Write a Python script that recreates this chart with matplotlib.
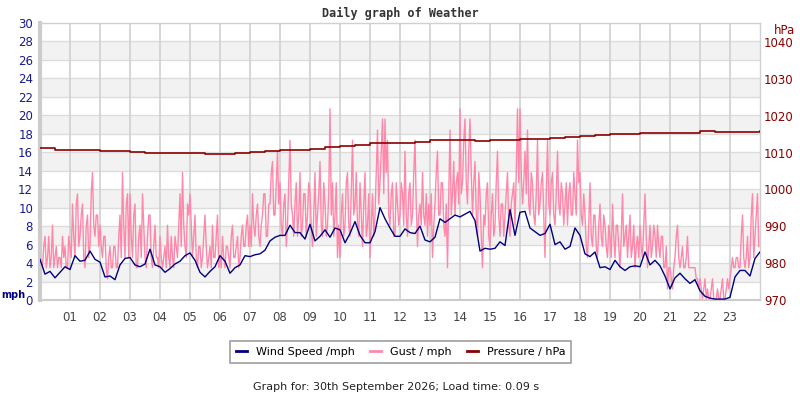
import numpy as np
import matplotlib.pyplot as plt

# wind speed, mph, one reading every 10 minutes (00:00 .. 24:00)
wind = [
    4.4, 2.8, 3.1, 2.4, 3.0, 3.6,
    3.3, 4.8, 4.2, 4.3, 5.3, 4.4,
    4.1, 2.5, 2.6, 2.2, 3.8, 4.5,
    4.6, 3.8, 3.6, 3.9, 5.5, 3.8,
    3.6, 3.0, 3.4, 3.9, 4.2, 4.8,
    5.1, 4.3, 3.0, 2.5, 3.1, 3.6,
    4.8, 4.2, 2.9, 3.5, 3.8, 4.8,
    4.7, 4.9, 5.0, 5.4, 6.4, 6.8,
    7.0, 7.0, 8.1, 7.3, 7.3, 6.6,
    8.2, 6.4, 6.9, 7.6, 6.8, 7.8,
    7.6, 6.2, 7.2, 8.5, 7.0, 6.2,
    6.2, 7.4, 10.0, 8.8, 7.8, 6.9,
    6.9, 7.7, 7.3, 7.2, 8.0, 6.5,
    6.3, 6.8, 8.8, 8.4, 8.8, 9.2,
    9.0, 9.3, 9.6, 8.6, 5.3, 5.6,
    5.5, 5.6, 6.3, 5.9, 9.8, 7.0,
    9.5, 9.6, 7.8, 7.4, 7.0, 7.2,
    8.2, 6.0, 6.3, 5.5, 5.8, 7.8,
    7.0, 5.0, 4.7, 5.2, 3.5, 3.6,
    3.3, 4.3, 3.6, 3.2, 3.6, 3.7,
    3.6, 5.2, 3.8, 4.3, 3.7, 2.6,
    1.2, 2.4, 2.9, 2.3, 1.8, 2.2,
    1.0, 0.4, 0.2, 0.1, 0.1, 0.1,
    0.3, 2.5, 3.2, 3.2, 2.6, 4.5,
    5.2,
]

# gust, mph, one reading every 2.5 minutes (24 per hour)
gust = [
    8.1, 4.6, 3.5, 5.8, 6.9, 3.5, 4.6, 6.9, 3.5, 4.6, 8.1, 3.5, 4.6, 5.8, 3.5, 4.6, 4.6, 3.5, 6.9, 4.6, 5.8, 3.5, 3.5, 6.9,
    5.8, 4.6, 10.4, 6.9, 4.6, 10.4, 11.5, 5.8, 6.9, 9.2, 10.4, 4.6, 3.5, 8.1, 9.2, 4.6, 5.8, 11.5, 13.8, 8.1, 6.9, 9.2, 9.2, 5.8,
    8.1, 5.8, 4.6, 6.9, 6.9, 3.5, 2.3, 4.6, 5.8, 3.5, 3.5, 5.8, 5.8, 3.5, 3.5, 6.9, 9.2, 4.6, 13.8, 8.1, 4.6, 10.4, 11.5, 4.6,
    11.5, 6.9, 4.6, 9.2, 10.4, 3.5, 3.5, 6.9, 8.1, 4.6, 11.5, 8.1, 4.6, 3.5, 6.9, 9.2, 9.2, 4.6, 3.5, 5.8, 8.1, 4.6, 4.6, 3.5,
    6.9, 4.6, 3.5, 4.6, 5.8, 3.5, 8.1, 4.6, 3.5, 6.9, 4.6, 3.5, 6.9, 5.8, 4.6, 8.1, 11.5, 5.8, 13.8, 8.1, 5.8, 4.6, 10.4, 9.2,
    11.5, 8.1, 4.6, 6.9, 9.2, 4.6, 3.5, 5.8, 5.8, 3.5, 4.6, 6.9, 9.2, 5.8, 3.5, 4.6, 5.8, 3.5, 8.1, 4.6, 4.6, 6.9, 9.2, 3.5,
    4.6, 3.5, 6.9, 4.6, 3.5, 5.8, 5.8, 4.6, 3.5, 6.9, 8.1, 4.6, 4.6, 5.8, 6.9, 3.5, 4.6, 6.9, 8.1, 5.8, 5.8, 8.1, 9.2, 5.8,
    8.1, 5.8, 11.5, 8.1, 6.9, 9.2, 10.4, 6.9, 5.8, 8.1, 9.2, 11.5, 11.5, 6.9, 6.9, 10.4, 10.4, 13.8, 15.0, 9.2, 9.2, 12.7, 16.1, 10.4,
    12.7, 8.1, 6.9, 10.4, 11.5, 5.8, 8.1, 12.7, 17.3, 10.4, 9.2, 6.9, 10.4, 12.7, 6.9, 9.2, 13.8, 6.9, 8.1, 11.5, 11.5, 6.9, 9.2, 12.7,
    11.5, 8.1, 5.8, 9.2, 13.8, 6.9, 9.2, 11.5, 15.0, 8.1, 6.9, 12.7, 10.4, 6.9, 8.1, 11.5, 20.7, 9.2, 12.7, 6.9, 9.2, 12.7, 4.6, 8.1,
    4.6, 9.2, 11.5, 6.9, 8.1, 12.7, 13.8, 8.1, 6.9, 11.5, 17.3, 9.2, 10.4, 13.8, 8.1, 6.9, 12.7, 9.2, 5.8, 10.4, 13.8, 6.9, 8.1, 11.5,
    4.6, 8.1, 11.5, 6.9, 9.2, 13.8, 18.4, 10.4, 12.7, 16.1, 19.6, 11.5, 19.6, 13.8, 17.3, 9.2, 8.1, 11.5, 12.7, 6.9, 6.9, 12.7, 10.4, 8.1,
    9.2, 12.7, 11.5, 8.1, 16.1, 9.2, 6.9, 11.5, 12.7, 8.1, 9.2, 13.8, 17.3, 10.4, 5.8, 9.2, 10.4, 8.1, 13.8, 9.2, 8.1, 11.5, 6.9, 10.4,
    8.1, 11.5, 4.6, 8.1, 10.4, 13.8, 16.1, 9.2, 9.2, 12.7, 12.7, 8.1, 6.9, 10.4, 3.5, 11.5, 18.4, 9.2, 11.5, 15.0, 9.2, 12.7, 13.8, 10.4,
    20.7, 11.5, 12.7, 17.3, 19.6, 12.7, 10.4, 16.1, 19.6, 13.8, 9.2, 12.7, 15.0, 9.2, 6.9, 13.8, 11.5, 6.9, 3.5, 9.2, 8.1, 11.5, 12.7, 6.9,
    5.8, 9.2, 11.5, 6.9, 8.1, 12.7, 16.1, 9.2, 6.9, 10.4, 10.4, 6.9, 9.2, 11.5, 13.8, 8.1, 6.9, 10.4, 11.5, 12.7, 8.1, 13.8, 20.7, 12.7,
    20.7, 13.8, 10.4, 12.7, 16.1, 11.5, 18.4, 10.4, 9.2, 13.8, 12.7, 9.2, 8.1, 11.5, 17.3, 9.2, 10.4, 12.7, 13.8, 9.2, 4.6, 11.5, 17.3, 10.4,
    9.2, 12.7, 13.8, 9.2, 8.1, 11.5, 16.1, 10.4, 9.2, 12.7, 11.5, 8.1, 10.4, 12.7, 8.1, 11.5, 12.7, 9.2, 9.2, 13.8, 11.5, 9.2, 17.3, 12.7,
    13.8, 9.2, 8.1, 11.5, 9.2, 5.8, 4.6, 8.1, 12.7, 6.9, 5.8, 9.2, 9.2, 5.8, 4.6, 8.1, 10.4, 6.9, 5.8, 9.2, 8.1, 5.8, 4.6, 8.1,
    6.9, 4.6, 10.4, 6.9, 4.6, 8.1, 8.1, 5.8, 3.5, 6.9, 11.5, 5.8, 6.9, 8.1, 4.6, 6.9, 9.2, 4.6, 5.8, 8.1, 3.5, 5.8, 6.9, 4.6,
    8.1, 5.8, 4.6, 8.1, 11.5, 6.9, 3.5, 5.8, 8.1, 4.6, 5.8, 8.1, 6.9, 4.6, 8.1, 5.8, 4.6, 6.9, 6.9, 3.5, 3.5, 5.8, 1.2, 3.5,
    3.5, 2.3, 1.2, 3.5, 4.6, 6.9, 8.1, 4.6, 3.5, 4.6, 5.8, 3.5, 3.5, 4.6, 6.9, 3.5, 3.5, 3.5, 3.5, 3.5, 3.5, 2.3, 2.3, 1.2,
    2.3, 1.2, 0.1, 1.2, 2.3, 0.1, 1.2, 0.1, 0.1, 1.2, 2.3, 0.1, 0.1, 0.1, 1.2, 0.1, 0.1, 1.2, 2.3, 0.1, 0.1, 1.2, 2.3, 1.2,
    2.3, 3.5, 4.6, 3.5, 3.5, 4.6, 4.6, 3.5, 3.5, 6.9, 9.2, 4.6, 3.5, 4.6, 6.9, 3.5, 4.6, 9.2, 11.5, 4.6, 6.9, 9.2, 11.5, 5.8,
]

# pressure, hPa, every 30 minutes
pressure = [
    1011.2, 1010.8, 1010.8, 1010.8, 1010.5, 1010.3, 1010.1, 1009.8,
    1010.0, 1010.0, 1009.8, 1009.7, 1009.7, 1010.0, 1010.2, 1010.5,
    1010.8, 1010.8, 1011.0, 1011.5, 1011.8, 1012.1, 1012.5, 1012.6,
    1012.6, 1013.0, 1013.3, 1013.3, 1013.3, 1013.2, 1013.3, 1013.5,
    1013.6, 1013.8, 1014.0, 1014.3, 1014.6, 1014.8, 1015.0, 1015.1,
    1015.3, 1015.4, 1015.4, 1015.3, 1015.8, 1015.5, 1015.5, 1015.5,
    1015.8,
]

hour_labels = ["%02d" % h for h in range(1, 24)]

wind_t = np.arange(len(wind)) / 6.0
gust_t = np.arange(len(gust)) / 24.0
pres_t = np.arange(len(pressure)) / 2.0

fig = plt.figure(figsize=(8, 4), dpi=100)
ax = fig.add_axes([0.05, 0.25, 0.90, 0.6925])

# alternating bands + grid
for lo in range(2, 30, 4):
    ax.axhspan(lo, lo + 2, color="#f2f2f2", zorder=0, lw=0)
for y in range(2, 30, 2):
    ax.axhline(y, color="#dcdcdc", lw=1, zorder=0.5)
for h in range(1, 24):
    ax.axvline(h, color="#d0d0d0", lw=1.2, zorder=0.5)

ax.plot(gust_t, gust, color="#ff88aa", lw=1.0, zorder=2)
ax.plot(wind_t, wind, color="#000080", lw=1.0, zorder=3)

ax.set_xlim(0, 24)
ax.set_ylim(0, 30)
ax.set_yticks(range(0, 31, 2))
ax.set_xticks(range(1, 24))
ax.set_xticklabels(hour_labels)
ax.tick_params(axis="x", length=0, pad=8, labelsize=8.5, labelcolor="#444444")
ax.tick_params(axis="y", length=0, pad=5, labelsize=8.5, labelcolor="#1a1a8c")

for s in ["top", "right"]:
    ax.spines[s].set_color("#d0d0d0")
    ax.spines[s].set_linewidth(1)
ax.spines["left"].set_color("#cccccc")
ax.spines["left"].set_linewidth(3)
ax.spines["bottom"].set_color("#cccccc")
ax.spines["bottom"].set_linewidth(1.5)

ax2 = ax.twinx()
ax2.plot(pres_t, pressure, color="#8b0000", lw=1.2, drawstyle="steps-post", zorder=4)
ax2.set_ylim(970, 1045.15)
ax2.set_yticks(range(970, 1041, 10))
ax2.tick_params(axis="y", length=0, pad=3, labelsize=8.5, labelcolor="#8b0000")
for s in ax2.spines.values():
    s.set_visible(False)

fig.text(0.5, 0.967, "Daily graph of Weather", ha="center", va="center",
         family="DejaVu Sans Mono", weight="bold", fontsize=8.5, color="#333333")
fig.text(0.001, 0.262, "mph", ha="left", va="center", weight="bold",
         fontsize=7, color="#000080")
fig.text(0.994, 0.925, "hPa", ha="right", va="center", fontsize=8.5, color="#8b0000")

handles = [
    plt.Line2D([], [], color="#000080", lw=2),
    plt.Line2D([], [], color="#ff88aa", lw=2),
    plt.Line2D([], [], color="#8b0000", lw=2),
]
leg = fig.legend(handles, ["Wind Speed /mph", "Gust / mph", "Pressure / hPa"],
                 loc="center", bbox_to_anchor=(0.501, 0.12), ncol=3,
                 fontsize=8, handlelength=1.0, columnspacing=1.4,
                 frameon=True, fancybox=False, borderpad=0.5)
leg.get_frame().set_edgecolor("#888888")
leg.get_frame().set_linewidth(1.2)

fig.text(0.495, 0.033, "Graph for: 30th September 2026; Load time: 0.09 s",
         ha="center", va="center", fontsize=8, color="#222222")

fig.savefig("out.png", dpi=100)
